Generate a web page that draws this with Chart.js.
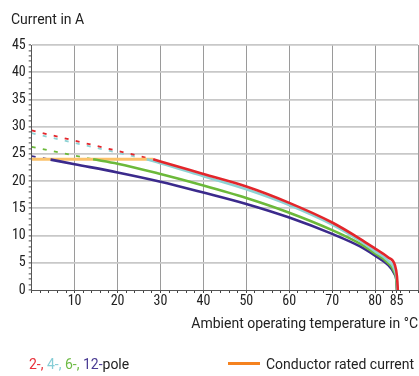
<!DOCTYPE html>
<html><head><meta charset="utf-8">
<script src="https://cdn.jsdelivr.net/npm/chart.js@4"></script>
<style>
body{margin:0;background:#fff;font-family:Roboto,sans-serif;}
#wrap{position:relative;width:419px;height:376px;}
#legL{position:absolute;left:29px;top:356px;font-size:14px;line-height:16px;white-space:nowrap;color:#222;}
#legR{position:absolute;left:228px;top:356px;font-size:14px;line-height:16px;white-space:nowrap;color:#222;}
#legR .ln{display:inline-block;width:32px;height:3px;background:#f5821f;vertical-align:4px;margin-right:6px;}
</style></head>
<body><div id="wrap"><canvas id="c" width="419" height="376"></canvas>
<div id="legL"><span style="color:#e8303a">2-, </span><span style="color:#86cdd6">4-, </span><span style="color:#6dbb45">6-, </span><span style="color:#4a3b93">12-</span>pole</div>
<div id="legR"><span class="ln"></span>Conductor rated current</div>
</div>
<script>
// ---- data (temperature in °C, current in A) ----
const ratedT = [0, 28.3];
const ratedI = [24, 24];

const pole2DashT = [0, 28.3];
const pole2DashI = [29.3, 24.0];
const pole4DashT = [0, 26.8];
const pole4DashI = [28.8, 24.0];
const pole6DashT = [0, 14.3];
const pole6DashI = [26.3, 24.0];
const pole12DashT = [0, 4.4];
const pole12DashI = [24.6, 23.95];

const pole2T = [28.3, 30, 40, 50, 60, 70, 76.5, 80, 83, 84.6, 85.1, 85.3];
const pole2I = [24.0, 23.6, 21.3, 19.0, 16.0, 12.4, 9.4, 7.6, 6.0, 4.6, 2.5, 0];
const pole4T = [26.8, 30, 40, 50, 60, 70, 76.5, 80, 83, 84.6, 85.1, 85.2];
const pole4I = [24.0, 23.3, 20.9, 18.5, 15.6, 12.0, 9.0, 7.1, 5.4, 3.6, 1.5, 0];
const pole6T = [14.3, 20, 30, 40, 50, 60, 70, 76.5, 80, 83, 84.5, 85, 85.1];
const pole6I = [24.0, 23.2, 21.3, 19.2, 16.9, 14.2, 11.0, 8.5, 6.7, 5.0, 3.3, 1.5, 0];
const pole12T = [4.4, 10, 20, 30, 40, 50, 60, 70, 76.5, 80, 83, 84.5, 85, 85.1];
const pole12I = [23.95, 23.1, 21.6, 19.9, 17.9, 15.8, 13.3, 10.3, 8.0, 6.3, 4.6, 3.0, 1.5, 0];

const xLabelTicks = [10, 20, 30, 40, 50, 60, 70, 80, 85];
const xMinorTicks = [0,2,4,6,8,10,12,14,16,18,20,22,24,26,28,30,32,34,36,38,40,42,44,46,48,50,52,54,56,58,60,62,64,66,68,70,72,74,76,78,80,82,84,85,86,88,90];
const yLabelTicks = [0, 5, 10, 15, 20, 25, 30, 35, 40, 45];

const pts = (xs, ys) => xs.map((x, i) => ({x, y: ys[i]}));

const RED = '#e3262b', CYAN = '#8ed2d4', GREEN = '#6cb93a', BLUE = '#3b2a8c', ORANGE = '#fbc26b';
const TICKFONT = {family: "'Roboto Condensed', Roboto, sans-serif", size: 14};

const solid = (data, color, order) => ({data, borderColor: color, borderWidth: 2.6, pointRadius: 0, fill: false, cubicInterpolationMode: 'monotone', order});
const dashed = (data, color, order) => ({data, borderColor: color, borderWidth: 1.8, borderDash: [4, 7.3], pointRadius: 0, fill: false, order});

new Chart(document.getElementById('c'), {
  type: 'line',
  data: {
    datasets: [
      dashed(pts(pole2DashT, pole2DashI), RED, 10),
      dashed(pts(pole4DashT, pole4DashI), CYAN, 11),
      dashed(pts(pole6DashT, pole6DashI), GREEN, 12),
      dashed(pts(pole12DashT, pole12DashI), BLUE, 13),
      {data: pts(ratedT, ratedI), borderColor: ORANGE, borderWidth: 3, pointRadius: 0, fill: false, order: 6},
      solid(pts(pole12T, pole12I), BLUE, 5),
      solid(pts(pole6T, pole6I), GREEN, 3),
      solid(pts(pole4T, pole4I), CYAN, 2),
      solid(pts(pole2T, pole2I), RED, 1)
    ]
  },
  options: {
    responsive: false,
    animation: false,
    events: [],
    layout: {padding: {left: 11, right: 1, top: 0, bottom: 0}},
    plugins: {
      legend: {display: false},
      tooltip: {enabled: false},
      title: {display: true, text: 'Current in A', align: 'start', color: '#222',
        font: {family: 'Roboto', size: 14, weight: 'normal'}, padding: {top: 12, bottom: 16.2}}
    },
    scales: {
      x: {
        type: 'linear', min: 0, max: 90,
        afterFit: s => { s.height = 86; },
        afterBuildTicks: s => { s.ticks = xMinorTicks.map(v => ({value: v})); },
        ticks: {autoSkip: false, maxRotation: 0, padding: 0, color: '#222', font: TICKFONT,
          callback: v => xLabelTicks.includes(v) ? String(v) : ''},
        grid: {
          color: c => (c.tick && c.tick.value % 10 === 0 && c.tick.value > 0) ? '#9a9a9a' : 'rgba(0,0,0,0)',
          lineWidth: 1, tickLength: 3, tickColor: '#444', tickWidth: 1
        },
        border: {color: '#555', width: 1},
        title: {display: true, text: 'Ambient operating temperature in °C', align: 'end', color: '#222',
          font: {family: 'Roboto', size: 14}, padding: {top: 0, bottom: 43.6}}
      },
      y: {
        min: 0, max: 45,
        afterFit: s => { s.width = 20.7; },
        ticks: {stepSize: 1, autoSkip: false, padding: 3, color: '#222', font: TICKFONT,
          callback: v => yLabelTicks.includes(v) ? String(v) : ''},
        grid: {
          color: c => (c.tick && c.tick.value % 5 === 0 && c.tick.value > 0) ? '#c8c8c8' : 'rgba(0,0,0,0)',
          lineWidth: 1.8, tickLength: 3, tickColor: '#444', tickWidth: 1
        },
        border: {color: '#555', width: 1}
      }
    }
  }
});
</script>
</body></html>
